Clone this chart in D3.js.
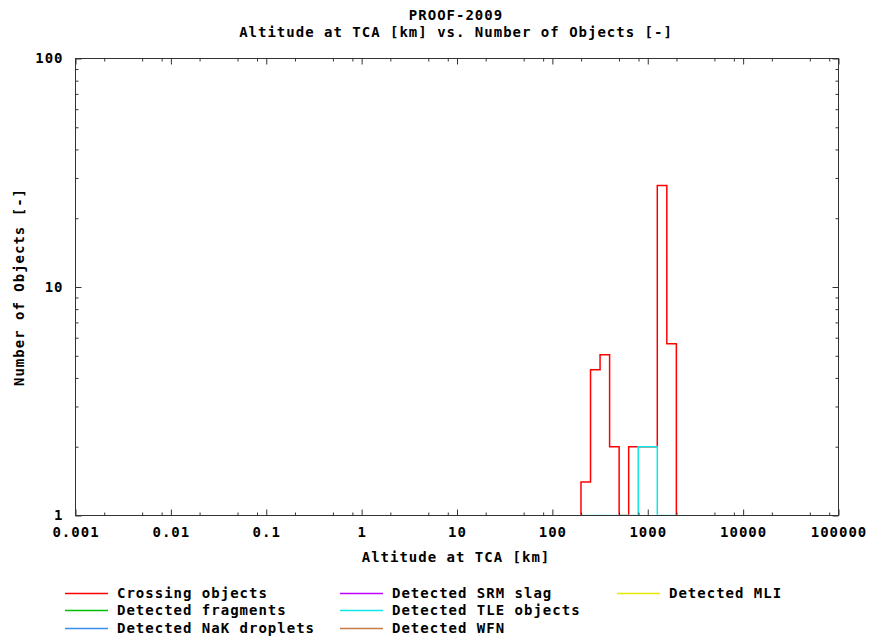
<!DOCTYPE html>
<html>
<head>
<meta charset="utf-8">
<script src="https://cdn.jsdelivr.net/npm/d3@7"></script>
<style>
  html, body { margin: 0; padding: 0; background: #fff; }
  svg text { font-family: "DejaVu Sans Mono", monospace; font-weight: bold; font-size: 14px; letter-spacing: 1.0px; fill: #000; }
</style>
</head>
<body>
<svg id="chart" width="869" height="641"></svg>
<script>
// ---- data ----
const titleLines = ["PROOF-2009", "Altitude at TCA [km] vs. Number of Objects [-]"];
const xLabel = "Altitude at TCA [km]";
const yLabel = "Number of Objects [-]";
const xTickValues = [0.001, 0.01, 0.1, 1, 10, 100, 1000, 10000, 100000];
const xTickLabels = ["0.001", "0.01", "0.1", "1", "10", "100", "1000", "10000", "100000"];
const yTickValues = [1, 10, 100];
const yTickLabels = ["1", "10", "100"];
// histogram bin edges [km]
const binEdges = [199.5, 251.2, 316.2, 398.1, 501.2, 631.0, 794.3, 1000, 1258.9, 1584.9, 1995.3];
const crossing  = [1.4, 4.34, 5.05, 2.0, 0, 2.0, 2.0, 2.0, 27.8, 5.64];
const fragments = [0, 0, 0, 0, 0, 0, 0, 0, 0, 0];
const nak       = [0, 0, 0, 0, 0, 0, 0, 0, 0, 0];
const srm       = [0, 0, 0, 0, 0, 0, 0, 0, 0, 0];
const tle       = [0, 0, 0, 0, 0, 0, 2.0, 2.0, 0, 0];
const wfn       = [0, 0, 0, 0, 0, 0, 0, 0, 0, 0];
const mli       = [0, 0, 0, 0, 0, 0, 0, 0, 0, 0];
const seriesNames = ["Crossing objects", "Detected fragments", "Detected NaK droplets",
                     "Detected SRM slag", "Detected TLE objects", "Detected WFN", "Detected MLI"];
const seriesValues = [crossing, fragments, nak, srm, tle, wfn, mli];
const seriesColors = ["#ff0000", "#00c000", "#3a8ef0", "#c000ff", "#10e8e8", "#c87a48", "#e8e800"];

// ---- layout ----
const L = 75.5, R = 838.5, T = 58.5, B = 515.5;
const svg = d3.select("#chart");
const x = d3.scaleLog().domain([0.001, 100000]).range([L, R]);
const y = d3.scaleLog().domain([1, 100]).range([B, T]);
const axisColor = "#333";

// minor ticks
const xMinor = [];
for (let e = -3; e < 5; e++) [2, 5, 8].forEach(m => xMinor.push(m * Math.pow(10, e)));
const yMinor = [];
for (let e = 0; e < 2; e++) for (let m = 2; m <= 9; m++) yMinor.push(m * Math.pow(10, e));

// clip
svg.append("clipPath").attr("id", "plotclip")
  .append("rect").attr("x", L).attr("y", T).attr("width", R - L).attr("height", B - T - 0.8);

// series paths (steps)
const line = d3.line().x(d => x(d[0])).y(d => y(Math.max(1, d[1])));
const gData = svg.append("g").attr("clip-path", "url(#plotclip)");
seriesValues.forEach((vals, si) => {
  if (!vals.some(v => v > 0)) return;
  const pts = [[binEdges[0], 0]];
  vals.forEach((v, i) => { pts.push([binEdges[i], v]); pts.push([binEdges[i + 1], v]); });
  pts.push([binEdges[binEdges.length - 1], 0]);
  gData.append("path").attr("d", line(pts))
    .attr("fill", "none").attr("stroke", seriesColors[si]).attr("stroke-width", 1.5);
});

function styleAxis(g) {
  g.select(".domain").remove();
  g.selectAll("line").attr("stroke", axisColor);
}

// x axes
svg.append("g").attr("transform", `translate(0,${B})`)
  .call(d3.axisBottom(x).tickValues(xTickValues).tickSizeInner(-6).tickSizeOuter(0).tickPadding(12)
    .tickFormat((d, i) => xTickLabels[i]))
  .call(styleAxis)
  .call(g => g.selectAll("text").attr("font-size", null).attr("font-family", null).attr("fill", "#000"));
svg.append("g").attr("transform", `translate(0,${B})`)
  .call(d3.axisBottom(x).tickValues(xMinor).tickSizeInner(-3).tickSizeOuter(0).tickFormat(""))
  .call(styleAxis);
svg.append("g").attr("transform", `translate(0,${T})`)
  .call(d3.axisTop(x).tickValues(xTickValues).tickSizeInner(-6).tickSizeOuter(0).tickFormat(""))
  .call(styleAxis);
svg.append("g").attr("transform", `translate(0,${T})`)
  .call(d3.axisTop(x).tickValues(xMinor).tickSizeInner(-3).tickSizeOuter(0).tickFormat(""))
  .call(styleAxis);

// y axes
svg.append("g").attr("transform", `translate(${L},0)`)
  .call(d3.axisLeft(y).tickValues(yTickValues).tickSizeInner(-6).tickSizeOuter(0).tickPadding(12)
    .tickFormat((d, i) => yTickLabels[i]))
  .call(styleAxis)
  .call(g => g.selectAll("text").attr("font-size", null).attr("font-family", null).attr("fill", "#000"));
svg.append("g").attr("transform", `translate(${L},0)`)
  .call(d3.axisLeft(y).tickValues(yMinor).tickSizeInner(-3).tickSizeOuter(0).tickFormat(""))
  .call(styleAxis);
svg.append("g").attr("transform", `translate(${R},0)`)
  .call(d3.axisRight(y).tickValues(yTickValues).tickSizeInner(-6).tickSizeOuter(0).tickFormat(""))
  .call(styleAxis);
svg.append("g").attr("transform", `translate(${R},0)`)
  .call(d3.axisRight(y).tickValues(yMinor).tickSizeInner(-3).tickSizeOuter(0).tickFormat(""))
  .call(styleAxis);

// frame
svg.append("rect").attr("x", L).attr("y", T).attr("width", R - L).attr("height", B - T)
  .attr("fill", "none").attr("stroke", axisColor).attr("stroke-width", 1);

// titles
svg.append("text").attr("x", 456).attr("y", 20).attr("text-anchor", "middle").text(titleLines[0]);
svg.append("text").attr("x", 456).attr("y", 37).attr("text-anchor", "middle").text(titleLines[1]);
svg.append("text").attr("x", 456).attr("y", 562).attr("text-anchor", "middle").text(xLabel);
svg.append("text").attr("transform", "translate(24,287) rotate(-90)").attr("text-anchor", "middle").text(yLabel);

// legend
const colX = [65, 340, 617];
const rowY = [593, 610, 628];
const legendPos = [[0,0],[0,1],[0,2],[1,0],[1,1],[1,2],[2,0]];
seriesNames.forEach((name, i) => {
  const [c, r] = legendPos[i];
  const g = svg.append("g").attr("transform", `translate(${colX[c]},${rowY[r]})`);
  g.append("line").attr("x1", 0).attr("x2", 43).attr("y1", 0.5).attr("y2", 0.5)
    .attr("stroke", seriesColors[i]).attr("stroke-width", 1.5);
  g.append("text").attr("x", 52).attr("y", 5).text(name);
});
</script>
</body>
</html>
